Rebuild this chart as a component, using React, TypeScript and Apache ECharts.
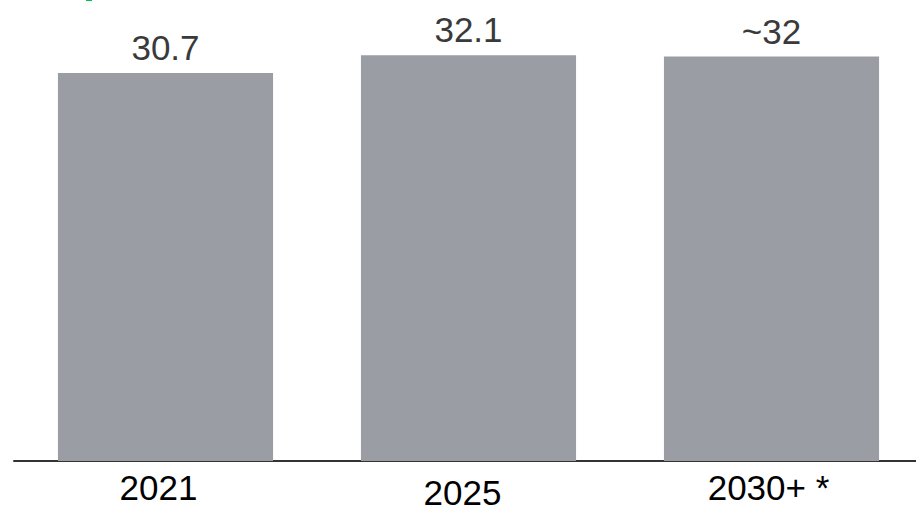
import React, { useEffect, useRef } from "react";
import * as echarts from "echarts";

const categories = ["2021", "2025", "2030+ *"];
const values = [30.7, 32.1, 32];
const valueLabels = ["30.7", "32.1", "~32"];

export default function App() {
  const ref = useRef<HTMLDivElement>(null);
  useEffect(() => {
    if (!ref.current) return;
    const chart = echarts.init(ref.current, null, { renderer: "svg" });
    const font = "Liberation Sans, Arial, sans-serif";
    chart.setOption({
      animation: false,
      backgroundColor: "#ffffff",
      grid: { left: 14, width: 909, top: 6, bottom: 50, outerBoundsMode: "none" },
      xAxis: {
        type: "category",
        data: categories.map((c, i) => ({
          value: c,
          textStyle: {
            padding: i === 0 ? [0, 14, 0, 0] : i === 1 ? [5, 12, 0, 0] : [0, 6, 0, 0],
          },
        })),
        axisLine: { show: true, lineStyle: { color: "#333333", width: 2 } },
        axisTick: { show: false },
        axisLabel: { color: "#000000", fontSize: 35, fontFamily: font, margin: 9 },
      },
      yAxis: {
        type: "value",
        min: 0,
        max: 36,
        show: false,
        splitLine: { show: false },
      },
      graphic: [
        { type: "rect", left: 86, top: 0, shape: { width: 6, height: 1 }, style: { fill: "#00c050" } },
      ],
      series: [
        {
          type: "bar",
          data: values,
          barWidth: "71%",
          itemStyle: { color: "#9a9da4" },
          label: {
            show: true,
            position: "top",
            distance: 8,
            color: "#3a3a3a",
            fontSize: 35,
            fontFamily: font,
            formatter: (p: any) => valueLabels[p.dataIndex],
          },
        },
      ],
    });
    return () => chart.dispose();
  }, []);
  return (
    <div
      ref={ref}
      style={{ position: "absolute", left: 0, top: 0, width: 916, height: 511 }}
    />
  );
}
